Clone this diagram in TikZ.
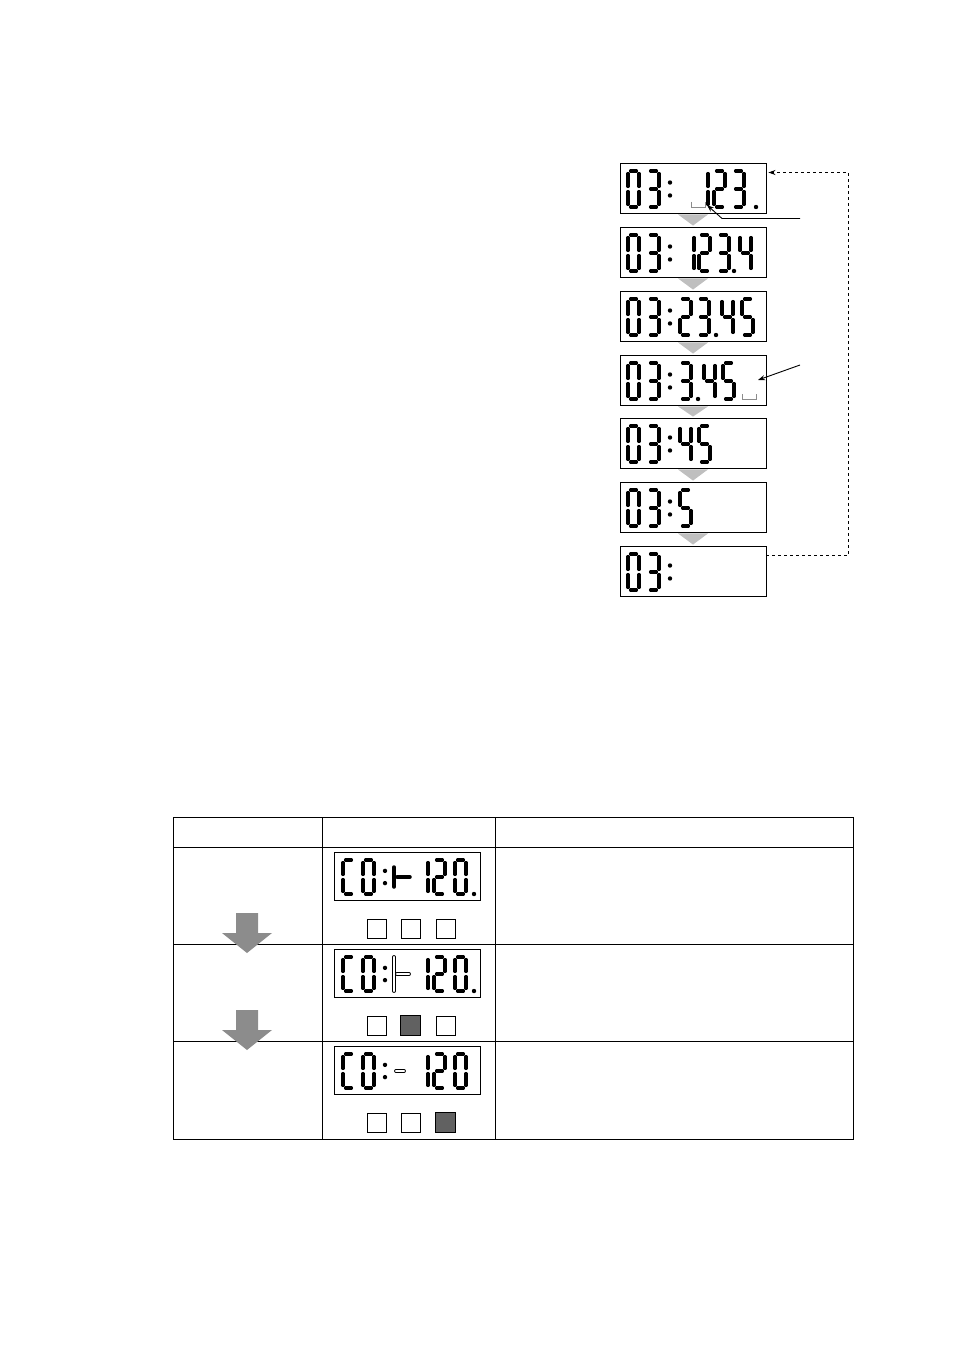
\documentclass[tikz,border=0pt]{standalone}
\usepackage{tikz}
\usetikzlibrary{calc,arrows.meta}

% seven-segment cells: \dw x \dh, gap \dg
\def\dw{11}
\def\dh{36}
\def\dg{2.7}
\tikzset{
  seg/.style={line width=3.5pt, line cap=round},
  hollow/.style={line width=0.7pt, double=white, double distance=2.4pt, line cap=round},
  lcd/.style={draw, line width=0.9pt, minimum width=146pt, minimum height=50pt, inner sep=0pt},
  tri/.style={fill=black!25, draw=none},
  key/.style={draw, line width=0.8pt, minimum size=19pt, inner sep=0pt},
  down/.style={fill=black!45, draw=none},
  ptr/.style={line width=0.9pt, -{Stealth[length=7pt, width=5pt]}}
}
\def\sega#1#2{\draw[seg] ({#1+\dg},{#2}) -- ({#1+\dw-\dg},{#2});}
\def\segb#1#2{\draw[seg] ({#1+\dw},{#2+\dg}) -- ({#1+\dw},{#2+\dh/2-\dg});}
\def\segc#1#2{\draw[seg] ({#1+\dw},{#2+\dh/2+\dg}) -- ({#1+\dw},{#2+\dh-\dg});}
\def\segd#1#2{\draw[seg] ({#1+\dg},{#2+\dh}) -- ({#1+\dw-\dg},{#2+\dh});}
\def\sege#1#2{\draw[seg] ({#1},{#2+\dh/2+\dg}) -- ({#1},{#2+\dh-\dg});}
\def\segf#1#2{\draw[seg] ({#1},{#2+\dg}) -- ({#1},{#2+\dh/2-\dg});}
\def\segg#1#2{\draw[seg] ({#1+\dg},{#2+\dh/2}) -- ({#1+\dw-\dg},{#2+\dh/2});}
\def\digit#1#2#3{\foreach \s in #3{\csname seg\s\endcsname{#1}{#2}}}
\def\dotp#1#2{\fill ({#1},{#2+\dh}) circle (2.2);}
\def\colonp#1#2{\fill ({#1},{#2+\dh*0.32}) circle (2.2); \fill ({#1},{#2+\dh*0.68}) circle (2.2);}
\def\zero{a,b,c,d,e,f}
\def\one{b,c}
\def\two{a,b,g,e,d}
\def\three{a,b,g,c,d}
\def\four{f,g,b,c}
\def\five{a,f,g,c,d}
\def\cee{a,d,e,f}
% "03:" head of every top display
\def\head#1{\digit{628}{#1}{\zero}\digit{648}{#1}{\three}\colonp{670}{#1}}
\def\blank#1#2{\draw[black!45, line width=0.9pt] ({#1},{#2+\dh-5}) -- ({#1},{#2+\dh}) -- ({#1+14},{#2+\dh}) -- ({#1+14},{#2+\dh-5});}

\begin{document}
\begin{tikzpicture}[x=1pt, y=-1pt]
  \useasboundingbox (0,0) rectangle (954,1351);

  % top displays
  \foreach \i/\t in {1/163,2/227,3/291,4/355,5/418,6/482,7/546} {
    \node[lcd] (d\i) at (693,\t+25) {};
  }
  \foreach \a/\b in {d1/d2,d2/d3,d3/d4,d4/d5,d5/d6,d6/d7} {
    \fill[tri] ($(\a.south)+(-15,1)$) -- ($(\a.south)+(15,1)$) -- ($(\b.north)+(0,-1)$) -- cycle;
  }

  \head{171}\blank{691}{171}\digit{697}{171}{\one}\digit{714}{171}{\two}\digit{733}{171}{\three}\dotp{756}{171}
  \head{235}\digit{683}{235}{\one}\digit{699}{235}{\two}\digit{718}{235}{\three}\dotp{734}{235}\digit{740}{235}{\four}
  \head{299}\digit{680}{299}{\two}\digit{698}{299}{\three}\dotp{716}{299}\digit{722}{299}{\four}\digit{742}{299}{\five}
  \head{363}\digit{680}{363}{\three}\dotp{698}{363}\digit{704}{363}{\four}\digit{723}{363}{\five}\blank{742}{363}
  \head{426}\digit{680}{426}{\four}\digit{699}{426}{\five}
  \head{490}\digit{680}{490}{\five}
  \head{554}

  % loop back and pointers
  \coordinate (loopa) at (848.5,555.5);
  \coordinate (loopb) at (848.5,172.5);
  \draw[ptr, dashed] (d7.east |- loopa) -- (loopa) -- (loopb) -- ($(d1.east |- loopb)+(2,0)$);
  \coordinate (pa) at (800,218.5);
  \draw[ptr] (pa) -- (722,218.5) -- (707,205);
  \coordinate (pb) at (800,365);
  \draw[ptr] (pb) -- (758,380);

  % table
  \draw[line width=0.9pt] (173,817) rectangle (853,1139);
  \foreach \y in {847,944,1041} { \draw[line width=0.9pt] (173,\y) -- (853,\y); }
  \draw[line width=0.9pt] (322,817) -- (322,1139);
  \draw[line width=0.9pt] (495,817) -- (495,1139);

  \foreach \y in {913,1010} {
    \fill[down] (236,\y) -- (258,\y) -- (258,\y+20) -- (272,\y+20) -- (247,\y+40) -- (222,\y+20) -- (236,\y+20) -- cycle;
  }

  \def\dh{34}
  \foreach \r/\t in {1/852,2/949,3/1046} {
    \node[lcd, minimum height=48pt] (t\r) at (407.5,\t+24) {};
    \node[key] (k\r a) at (376.5,\t+76.5) {};
    \node[key] (k\r b) at (410.5,\t+76.5) {};
    \node[key] (k\r c) at (445.5,\t+76.5) {};
    \digit{343}{\t+8}{\cee}\digit{363}{\t+8}{\zero}\colonp{385}{\t+8}
    \digit{417}{\t+8}{\one}\digit{434}{\t+8}{\two}\digit{455}{\t+8}{\zero}
  }
  \fill[black!62] (k2b.south west) rectangle (k2b.north east);
  \draw[line width=0.8pt] (k2b.south west) rectangle (k2b.north east);
  \fill[black!62] (k3c.south west) rectangle (k3c.north east);
  \draw[line width=0.8pt] (k3c.south west) rectangle (k3c.north east);
  \dotp{474}{860}\dotp{474}{957}

  % middle cell of each row
  \draw[seg] (394,867) -- (394,887);
  \draw[seg] (397,877) -- (410,877);
  \draw[hollow] (394,957) -- (394,991);
  \draw[hollow] (397,974) -- (409,974);
  \draw[hollow] (396,1071) -- (404,1071);
\end{tikzpicture}
\end{document}
